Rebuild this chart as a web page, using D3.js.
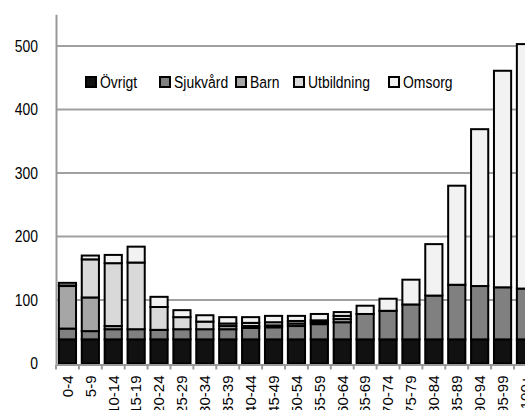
<!DOCTYPE html>
<html>
<head>
<meta charset="utf-8">
<script src="https://cdn.jsdelivr.net/npm/d3@7"></script>
<style>
  body { margin: 0; background: #fff; }
  svg { display: block; font-family: "Liberation Sans", Arial, sans-serif; }
</style>
</head>
<body>
<svg id="drawing_region"></svg>
<script>
// age groups
const categories = ['0-4', '5-9', '10-14', '15-19', '20-24', '25-29', '30-34', '35-39', '40-44', '45-49',
    '50-54', '55-59', '60-64', '65-69', '70-74', '75-79', '80-84', '85-89', '90-94', '95-99', '100+'];

// stacked values, bottom to top
const ovrigt     = [38, 38, 38, 38, 38, 38, 38, 38, 38, 38, 38, 38, 38, 38, 38, 38, 38, 38, 38, 38, 38];
const sjukvard   = [17, 13, 16, 16, 15, 16, 16, 16, 18, 19, 21, 24, 27, 40, 45, 55, 69, 86, 84, 82, 80];
const barn       = [67, 53, 5, 0, 0, 0, 0, 5, 3, 3, 4, 3, 5, 0, 0, 0, 0, 0, 0, 0, 0];
const utbildning = [1, 60, 99, 105, 36, 19, 12, 4, 5, 5, 4, 3, 5, 0, 0, 0, 0, 0, 0, 0, 0];
const omsorg     = [4, 6, 13, 25, 16, 11, 10, 10, 9, 10, 8, 10, 6, 13, 19, 39, 81, 156, 247, 341, 385];

const seriesNames = ['Övrigt', 'Sjukvård', 'Barn', 'Utbildning', 'Omsorg'];
const seriesColors = ['#111111', '#808080', '#a6a6a6', '#d9d9d9', '#f2f2f2'];
const yTicks = [0, 100, 200, 300, 400, 500];

const width = 525, height = 410;
const left = 56, zeroY = 363.5, step = 22.9;
const narrow = 0.82; // squeeze Liberation Sans to a narrow face
const legendX = [85, 159, 235, 293, 388];

const svg = d3.select('#drawing_region')
    .attr('width', width)
    .attr('height', height);

const table = categories.map((c, i) => ({
    cat: c,
    'Övrigt': ovrigt[i],
    'Sjukvård': sjukvard[i],
    'Barn': barn[i],
    'Utbildning': utbildning[i],
    'Omsorg': omsorg[i]
}));

const stacked = d3.stack().keys(seriesNames)(table);

const xscale = d3.scaleBand()
    .domain(categories)
    .range([left, left + step * categories.length]);
const yscale = d3.scaleLinear()
    .domain([0, 550])
    .range([zeroY, zeroY - 550 * 0.635]);

const color = d3.scaleOrdinal().domain(seriesNames).range(seriesColors);

// gridlines
svg.append('g')
    .selectAll('line')
    .data(yTicks.filter(t => t > 0))
    .join('line')
    .attr('x1', left)
    .attr('x2', width)
    .attr('y1', d => yscale(d))
    .attr('y2', d => yscale(d))
    .attr('stroke', '#a0a0a0')
    .attr('stroke-width', 2);

// bars
const barW = xscale.bandwidth() * 0.75;
svg.append('g')
    .selectAll('g')
    .data(stacked)
    .join('g')
    .attr('fill', d => color(d.key))
    .selectAll('rect')
    .data(d => d.filter(s => s[1] - s[0] > 0))
    .join('rect')
    .attr('x', d => xscale(d.data.cat) + (xscale.bandwidth() - barW) / 2)
    .attr('y', d => yscale(d[1]))
    .attr('width', barW)
    .attr('height', d => yscale(d[0]) - yscale(d[1]))
    .attr('stroke', '#000')
    .attr('stroke-width', 2);

// y axis
const yaxis = d3.axisLeft(yscale).tickValues(yTicks).tickSize(0);
const yaxis_group = svg.append('g')
    .attr('transform', `translate(${left},0)`)
    .call(yaxis);
yaxis_group.select('.domain').attr('stroke', '#999').attr('stroke-width', 2);
yaxis_group.selectAll('text')
    .attr('font-size', 17)
    .attr('font-family', null)
    .attr('fill', '#000')
    .attr('x', -18 / narrow)
    .attr('transform', `scale(${narrow},1)`);

// x axis
const xaxis = d3.axisBottom(xscale).tickSize(0).tickSizeOuter(0);
const xaxis_group = svg.append('g')
    .attr('transform', `translate(0,${zeroY + 1})`)
    .call(xaxis);
xaxis_group.select('.domain').attr('stroke', '#999').attr('stroke-width', 2);
xaxis_group.selectAll('text')
    .attr('font-size', 15)
    .attr('font-family', null)
    .attr('fill', '#000')
    .attr('transform', 'rotate(-90)')
    .attr('text-anchor', 'end')
    .attr('dy', '0.35em')
    .attr('x', -11)
    .attr('y', 0);

// boundary ticks
const bounds = categories.map(c => xscale(c)).concat([xscale.range()[1]]);
xaxis_group.append('g')
    .selectAll('line')
    .data(bounds)
    .join('line')
    .attr('x1', d => d)
    .attr('x2', d => d)
    .attr('y1', 0)
    .attr('y2', 5)
    .attr('stroke', '#999')
    .attr('stroke-width', 2);

// legend
const legend = svg.append('g').attr('transform', 'translate(0,82)');
seriesNames.forEach((name, i) => {
    const item = legend.append('g').attr('transform', `translate(${legendX[i]},0)`);
    item.append('rect')
        .attr('x', 1)
        .attr('y', -5)
        .attr('width', 10)
        .attr('height', 10)
        .attr('fill', seriesColors[i])
        .attr('stroke', '#000')
        .attr('stroke-width', 2);
    item.append('text')
        .attr('transform', `translate(15,0) scale(${narrow},1)`)
        .attr('dy', '0.35em')
        .attr('font-size', 17)
        .text(name);
});
</script>
</body>
</html>
